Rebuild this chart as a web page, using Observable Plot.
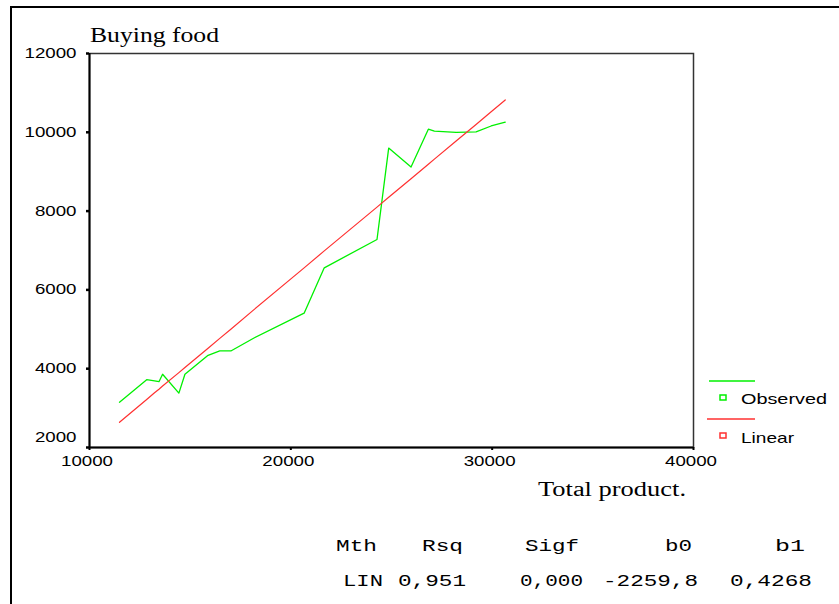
<!DOCTYPE html>
<html><head><meta charset="utf-8">
<script src="https://cdn.jsdelivr.net/npm/d3@7"></script>
<script src="https://cdn.jsdelivr.net/npm/@observablehq/plot@0.6"></script>
<style>html,body{margin:0;padding:0;background:#fff;} #chart{width:839px;height:604px;overflow:hidden;}</style>
</head><body><div id="chart"></div>
<script>
// ---- data ----
const totalProduct = [11490, 12840, 13230, 13450, 13630, 14440, 14740, 15890, 16470, 17020, 18170, 20660, 21660, 24280, 24860, 25970, 26830, 27130, 28210, 29200, 29950, 30650];
const observed     = [3150, 3720, 3690, 3670, 3860, 3380, 3860, 4340, 4450, 4450, 4780, 5410, 6560, 7280, 9600, 9120, 10080, 10030, 10000, 10010, 10160, 10260];
const linearFit    = [2640, 3220, 3390, 3480, 3560, 3900, 4030, 4520, 4770, 5000, 5500, 6560, 6990, 8100, 8350, 8820, 9190, 9320, 9780, 10200, 10520, 10820];
const xTicks = [10000, 20000, 30000, 40000];
const yTicks = [2000, 4000, 6000, 8000, 10000, 12000];
const titleText = "Buying food";
const xLabelText = "Total product.";
const legendLabels = ["Observed", "Linear"];
const tableHeader = ["Mth", "Rsq", "Sigf", "b0", "b1"];
const tableRow = ["LIN", "0,951", "0,000", "-2259,8", "0,4268"];

const green = "#00f000", red = "#ff3030";
const rows = totalProduct.map((x, i) => ({x, obs: observed[i], lin: linearFit[i]}));
const fmt = d => String(d);

const chart = Plot.plot({
  width: 839, height: 604,
  marginLeft: 89, marginRight: 146, marginTop: 53, marginBottom: 157,
  style: {background: "#fff", fontFamily: "'Liberation Sans', Arial, sans-serif", color: "#000"},
  x: {domain: [10000, 40000], label: null},
  y: {domain: [2000, 12000], label: null},
  marks: [
    Plot.frame({stroke: "#333", strokeWidth: 1.5}),
    Plot.ruleX([xTicks[0]], {stroke: "#000", strokeWidth: 2}),
    Plot.ruleY([yTicks[0]], {stroke: "#000", strokeWidth: 2}),
    Plot.axisY({ticks: yTicks, tickSize: 3, strokeWidth: 2.5, fill: "none", label: null}),
    Plot.axisY({ticks: yTicks.slice(1), tickSize: 0, tickPadding: 13, fontSize: 14, tickFormat: fmt, label: null}),
    Plot.axisY({ticks: yTicks.slice(0, 1), tickSize: 0, tickPadding: 13, dy: -10, fontSize: 14, tickFormat: fmt, label: null}),
    Plot.axisX({ticks: xTicks, tickSize: 3, strokeWidth: 2, fill: "none", label: null}),
    Plot.axisX({ticks: xTicks, tickSize: 0, tickPadding: 9, dx: -2.5, fontSize: 14, tickFormat: fmt, label: null}),
    Plot.line(rows, {x: "x", y: "obs", stroke: green, strokeWidth: 1.3}),
    Plot.line(rows, {x: "x", y: "lin", stroke: red, strokeWidth: 1.2})
  ]
});
document.getElementById("chart").appendChild(chart);

const svg = d3.select(chart);
// stretch tick labels to match the wide reference glyphs
svg.selectAll('g[aria-label="y-axis tick label"] text, g[aria-label="x-axis tick label"] text')
  .each(function() {
    const t = this.textContent;
    d3.select(this).attr("textLength", t.length * 10.4).attr("lengthAdjust", "spacingAndGlyphs");
  });

function addText(str, x, y, {family, size, width, anchor = "start"}) {
  const t = svg.append("text")
    .attr("x", x).attr("y", y)
    .attr("font-family", family).attr("font-size", size)
    .attr("text-anchor", anchor).attr("fill", "#000")
    .text(str);
  if (width) t.attr("textLength", width).attr("lengthAdjust", "spacingAndGlyphs");
  return t;
}
const serif = "'Liberation Serif', 'Times New Roman', serif";
const mono = "'Liberation Mono', 'Courier New', monospace";
const sans = "'Liberation Sans', Arial, sans-serif";

// outer border
svg.append("rect").attr("x", 11).attr("y", 7).attr("width", 900).attr("height", 700)
  .attr("fill", "none").attr("stroke", "#000").attr("stroke-width", 2);

addText(titleText, 90, 41.5, {family: serif, size: 20, width: 129});
addText(xLabelText, 538, 496, {family: serif, size: 20, width: 148});

// statistics table
const headX = [336, 422, 525, 665, 775], headW = [41, 41, 54, 27, 30];
tableHeader.forEach((s, i) => addText(s, headX[i], 551, {family: mono, size: 17, width: headW[i]}));
const rowX = [343, 398, 520, 603, 730], rowW = [40, 68, 63, 95, 82];
tableRow.forEach((s, i) => addText(s, rowX[i], 586, {family: mono, size: 17, width: rowW[i]}));

// legend
const legColors = [green, red], legLineY = [381, 419], legLineX0 = [709, 707], legTextY = [404, 442.5], legW = [86, 53];
legendLabels.forEach((s, i) => {
  svg.append("line").attr("x1", legLineX0[i]).attr("x2", 755).attr("y1", legLineY[i]).attr("y2", legLineY[i])
    .attr("stroke", legColors[i]).attr("stroke-width", 1.5);
  svg.append("rect").attr("x", 720).attr("y", legLineY[i] + 14).attr("width", 6).attr("height", 5)
    .attr("fill", "none").attr("stroke", legColors[i]).attr("stroke-width", 1.5);
  addText(s, 741, legTextY[i], {family: sans, size: 15, width: legW[i]});
});
</script>
</body></html>
